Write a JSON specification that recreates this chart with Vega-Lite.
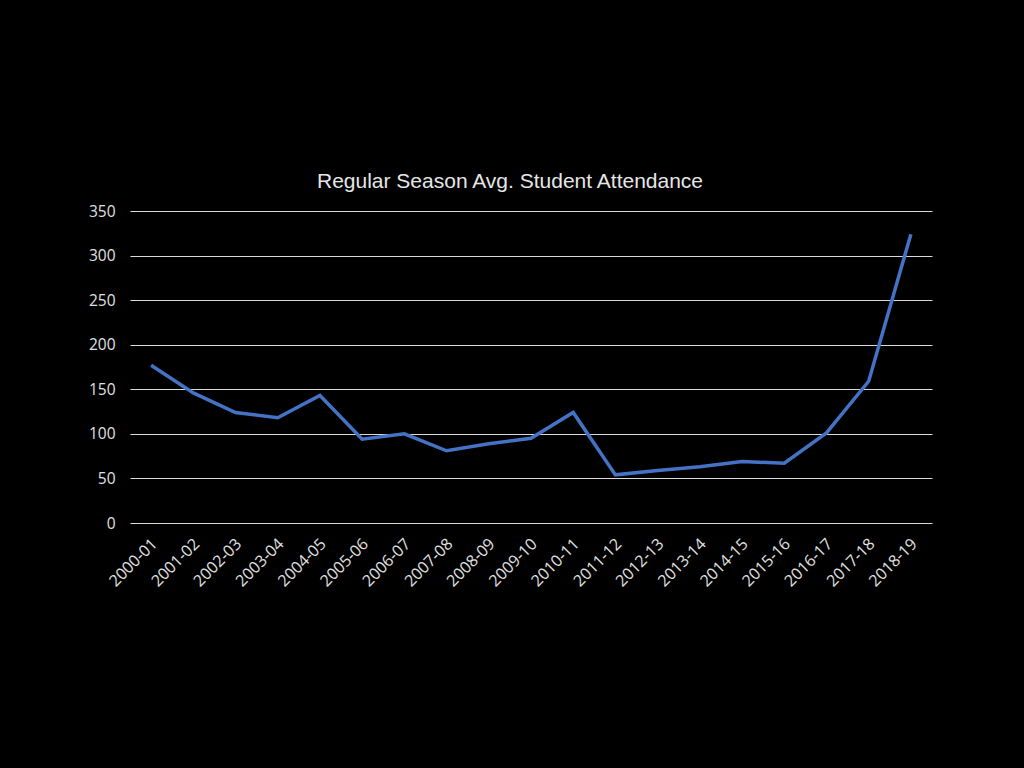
{
  "$schema": "https://vega.github.io/schema/vega-lite/v6.json",
  "width": 802,
  "height": 312,
  "autosize": "none",
  "padding": {"left": 130, "top": 211, "right": 92, "bottom": 245},
  "background": "#000000",
  "title": {
    "text": "Regular Season Avg. Student Attendance",
    "font": "Liberation Sans",
    "fontSize": 21,
    "fontWeight": "normal",
    "color": "#e6e6e6",
    "anchor": "middle",
    "frame": "group",
    "baseline": "alphabetic",
    "offset": -5,
    "dx": -21
  },
  "config": {
    "view": {"stroke": null},
    "axis": {"labelFont": "Open Sans", "labelColor": "#e0e0e0", "labelFontSize": 15.5}
  },
  "data": {
    "values": [
      {"season": "2000-01", "attendance": 177},
      {"season": "2001-02", "attendance": 146},
      {"season": "2002-03", "attendance": 124},
      {"season": "2003-04", "attendance": 118},
      {"season": "2004-05", "attendance": 143},
      {"season": "2005-06", "attendance": 94},
      {"season": "2006-07", "attendance": 100},
      {"season": "2007-08", "attendance": 81},
      {"season": "2008-09", "attendance": 89},
      {"season": "2009-10", "attendance": 95},
      {"season": "2010-11", "attendance": 124},
      {"season": "2011-12", "attendance": 54},
      {"season": "2012-13", "attendance": 59},
      {"season": "2013-14", "attendance": 63},
      {"season": "2014-15", "attendance": 69},
      {"season": "2015-16", "attendance": 67},
      {"season": "2016-17", "attendance": 101},
      {"season": "2017-18", "attendance": 159},
      {"season": "2018-19", "attendance": 324}
    ]
  },
  "mark": {"type": "line", "color": "#4472C4", "strokeWidth": 3.5, "strokeJoin": "miter"},
  "encoding": {
    "x": {
      "field": "season",
      "type": "ordinal",
      "sort": null,
      "scale": {"type": "point", "padding": 0.5},
      "axis": {
        "title": null,
        "labelAngle": -45,
        "labelAlign": "right",
        "labelBaseline": "middle",
        "labelPadding": 18,
        "labelFontSize": 16,
        "labelOffset": 3,
        "ticks": false,
        "domain": false,
        "grid": false
      }
    },
    "y": {
      "field": "attendance",
      "type": "quantitative",
      "scale": {"domain": [0, 350], "nice": false},
      "axis": {
        "title": null,
        "values": [0, 50, 100, 150, 200, 250, 300, 350],
        "ticks": false,
        "domain": false,
        "labelPadding": 15,
        "grid": true,
        "gridColor": "#d9d9d9",
        "gridWidth": 1.2,
        "gridOpacity": 1
      }
    }
  }
}
